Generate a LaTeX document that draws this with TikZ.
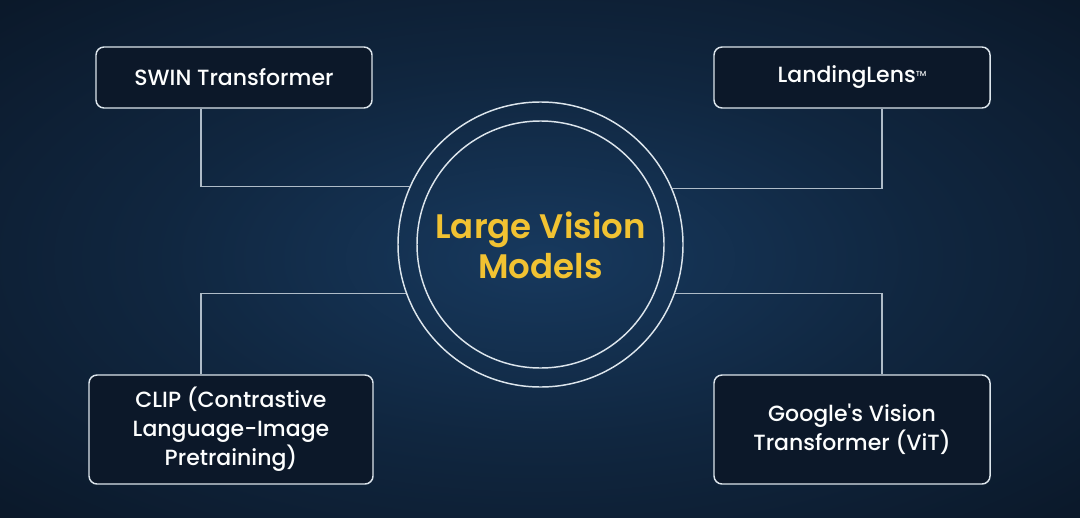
\documentclass[tikz,border=0pt]{standalone}
\usepackage{fontspec}
\setmainfont{Poppins}[UprightFont=* Medium, BoldFont=* SemiBold]
\usepackage{tikz}
\usetikzlibrary{calc,positioning}

\definecolor{bgin}{HTML}{17395E}
\definecolor{bgmid}{HTML}{10263F}
\definecolor{bgout}{HTML}{08111E}
\definecolor{boxfill}{HTML}{0C1829}
\definecolor{rim}{HTML}{DCE5EC}
\definecolor{wire}{HTML}{AFBCC8}
\definecolor{gold}{HTML}{F1C232}

\pgfdeclareradialshading{vignette}{\pgfpoint{0bp}{0bp}}{%
  color(0bp)=(bgin); color(18bp)=(bgmid); color(45bp)=(bgout); color(75bp)=(bgout)}

\tikzset{
  model/.style={draw=rim, line width=1.1pt, rounded corners=6pt, fill=boxfill,
    text=white!95!rim, align=center, font=\fontsize{16.5}{21.7}\selectfont,
    inner sep=0pt},
  ring/.style={circle, draw=rim, line width=1.1pt, inner sep=0pt},
  link/.style={draw=wire, line width=0.8pt}
}

\begin{document}
\begin{tikzpicture}[x=0.75pt, y=-0.75pt]

    % fundo
    \useasboundingbox (0,0) rectangle (1080,517);
    \shade[shading=vignette] (0,0) rectangle (1080,517);

    % circulo central
    \node[ring, minimum size=285*0.75pt] (lvm) at (540.5,244.5) {};
    \node[ring, minimum size=247*0.75pt] (lvmin) at (lvm.center) {};
    \node[text=gold, align=center, font=\fontsize{25.5}{30}\selectfont\bfseries]
        (title) at (540.5,245) {Large Vision\\Models};

    % modelos
    \node[model, minimum width=276*0.75pt, minimum height=61*0.75pt]
        (swin) at (234,77.5) {SWIN Transformer};
    \node[model, minimum width=276*0.75pt, minimum height=61*0.75pt]
        (landing) at (852,77.5) {LandingLens\raisebox{0.55ex}{\fontsize{5.5}{6}\selectfont TM}};
    \node[model, minimum width=284*0.75pt, minimum height=109*0.75pt]
        (clip) at (231,429.5) {CLIP (Contrastive\\Language-Image\\Pretraining)};
    \node[model, minimum width=276*0.75pt, minimum height=109*0.75pt]
        (vit) at (852,429.5) {Google\textquotesingle s Vision\\Transformer (ViT)};

    % ligacoes
    \draw[link] (lvm.156.6) -| (201,0 |- swin.south);
    \draw[link] (lvm.23.4) -| (882,0 |- landing.south);
    \draw[link] (lvm.200.8) -| (201,0 |- clip.north);
    \draw[link] (lvm.-20.8) -| (882,0 |- vit.north);

\end{tikzpicture}
\end{document}
